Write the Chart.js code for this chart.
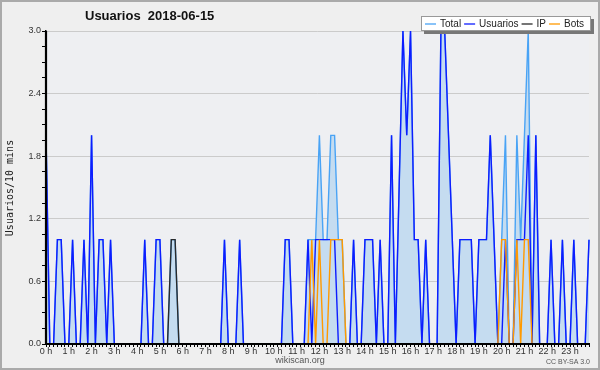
<!DOCTYPE html>
<html>
<head>
<meta charset="utf-8">
<script src="https://cdn.jsdelivr.net/npm/chart.js@4/dist/chart.umd.min.js"></script>
<style>
  html, body { margin: 0; padding: 0; background: #efefef; }
  canvas { display: block; }
</style>
</head>
<body>
<canvas id="myChart" width="600" height="370"></canvas>
<script>
// one value per 10 minutes, 6 per row = one hour per row
const total = [
  2, 0, 0, 1, 1, 0,
  0, 1, 0, 0, 1, 0,
  2, 0, 1, 1, 0, 1,
  0, 0, 0, 0, 0, 0,
  0, 0, 1, 0, 0, 1,
  1, 0, 0, 1, 1, 0,
  0, 0, 0, 0, 0, 0,
  0, 0, 0, 0, 0, 1,
  0, 0, 0, 1, 0, 0,
  0, 0, 0, 0, 0, 0,
  0, 0, 0, 1, 1, 0,
  0, 0, 0, 1, 1, 1,
  2, 1, 1, 2, 2, 1,
  1, 0, 0, 1, 0, 0,
  1, 1, 1, 0, 1, 0,
  0, 2, 0, 1.5, 3, 2,
  3, 1, 1, 0, 1, 0,
  0, 0, 3, 3, 2, 1,
  0, 1, 1, 1, 1, 0,
  1, 1, 1, 2, 1, 0,
  1, 2, 0, 0, 2, 1,
  2, 3, 0, 2, 0, 0,
  0, 1, 0, 0, 1, 0,
  0, 1, 0, 0, 0, 1
];

const usuarios = [
  2, 0, 0, 1, 1, 0,
  0, 1, 0, 0, 1, 0,
  2, 0, 1, 1, 0, 1,
  0, 0, 0, 0, 0, 0,
  0, 0, 1, 0, 0, 1,
  1, 0, 0, 0, 0, 0,
  0, 0, 0, 0, 0, 0,
  0, 0, 0, 0, 0, 1,
  0, 0, 0, 1, 0, 0,
  0, 0, 0, 0, 0, 0,
  0, 0, 0, 1, 1, 0,
  0, 0, 0, 1, 0, 1,
  1, 1, 1, 1, 1, 0,
  0, 0, 0, 1, 0, 0,
  1, 1, 1, 0, 1, 0,
  0, 2, 0, 1.5, 3, 2,
  3, 1, 1, 0, 1, 0,
  0, 0, 3, 3, 2, 1,
  0, 1, 1, 1, 1, 0,
  1, 1, 1, 2, 1, 0,
  0, 1, 0, 0, 1, 1,
  1, 2, 0, 2, 0, 0,
  0, 1, 0, 0, 1, 0,
  0, 1, 0, 0, 0, 1
];

const ip = [
  0, 0, 0, 0, 0, 0,
  0, 0, 0, 0, 0, 0,
  0, 0, 0, 0, 0, 0,
  0, 0, 0, 0, 0, 0,
  0, 0, 0, 0, 0, 0,
  0, 0, 0, 1, 1, 0,
  0, 0, 0, 0, 0, 0,
  0, 0, 0, 0, 0, 0,
  0, 0, 0, 0, 0, 0,
  0, 0, 0, 0, 0, 0,
  0, 0, 0, 0, 0, 0,
  0, 0, 0, 0, 0, 0,
  0, 0, 0, 0, 0, 0,
  0, 0, 0, 0, 0, 0,
  0, 0, 0, 0, 0, 0,
  0, 0, 0, 0, 0, 0,
  0, 0, 0, 0, 0, 0,
  0, 0, 0, 0, 0, 0,
  0, 0, 0, 0, 0, 0,
  0, 0, 0, 0, 0, 0,
  0, 0, 0, 0, 0, 0,
  0, 0, 0, 0, 0, 0,
  0, 0, 0, 0, 0, 0,
  0, 0, 0, 0, 0, 0
];

const bots = [
  0, 0, 0, 0, 0, 0,
  0, 0, 0, 0, 0, 0,
  0, 0, 0, 0, 0, 0,
  0, 0, 0, 0, 0, 0,
  0, 0, 0, 0, 0, 0,
  0, 0, 0, 0, 0, 0,
  0, 0, 0, 0, 0, 0,
  0, 0, 0, 0, 0, 0,
  0, 0, 0, 0, 0, 0,
  0, 0, 0, 0, 0, 0,
  0, 0, 0, 0, 0, 0,
  0, 0, 0, 0, 1, 0,
  1, 0, 0, 1, 1, 1,
  1, 0, 0, 0, 0, 0,
  0, 0, 0, 0, 0, 0,
  0, 0, 0, 0, 0, 0,
  0, 0, 0, 0, 0, 0,
  0, 0, 0, 0, 0, 0,
  0, 0, 0, 0, 0, 0,
  0, 0, 0, 0, 0, 0,
  1, 1, 0, 0, 1, 0,
  1, 1, 0, 0, 0, 0,
  0, 0, 0, 0, 0, 0,
  0, 0, 0, 0, 0, 0
];

const hourTicks = [
  '0 h', '1 h', '2 h', '3 h', '4 h', '5 h', '6 h', '7 h', '8 h', '9 h', '10 h', '11 h',
  '12 h', '13 h', '14 h', '15 h', '16 h', '17 h', '18 h', '19 h', '20 h', '21 h', '22 h', '23 h'
];
const yTicks = [0.0, 0.6, 1.2, 1.8, 2.4, 3.0];

const titleText = 'Usuarios  2018-06-15';
const yTitle = 'Usuarios/10 mins';

// x categories: one slot per 10 minutes
const slots = total.map((v, i) => i);

const isMajor = (v) => yTicks.some(t => Math.abs(t - v) < 1e-6);
const font = 'Liberation Sans';

// background, title, legend box and footer texts
const decor = {
  id: 'decor',
  beforeDraw(chart) {
    const { ctx, chartArea: a } = chart;
    ctx.save();
    ctx.fillStyle = '#efefef';
    ctx.fillRect(0, 0, 600, 370);
    ctx.fillStyle = '#eeeff2';
    ctx.fillRect(a.left, a.top, a.right - a.left, a.bottom - a.top);
    ctx.strokeStyle = '#aaaaaa';
    ctx.lineWidth = 2;
    ctx.strokeRect(1, 1, 598, 368);
    ctx.restore();
  },
  afterDatasetsDraw(chart) {
    // axes sit on top of the zero-valued lines
    const { ctx, chartArea: a } = chart;
    ctx.save();
    ctx.strokeStyle = '#000';
    ctx.lineWidth = 2.2;
    ctx.beginPath();
    ctx.moveTo(a.left, a.top);
    ctx.lineTo(a.left, a.bottom);
    ctx.lineTo(a.right + 1, a.bottom);
    ctx.stroke();
    ctx.restore();
  },
  afterDraw(chart) {
    const ctx = chart.ctx;
    ctx.save();

    // title
    ctx.fillStyle = '#111';
    ctx.font = 'bold 13px "' + font + '"';
    ctx.textBaseline = 'middle';
    ctx.textAlign = 'left';
    ctx.fillText(titleText, 85, 16);

    // y axis title
    ctx.save();
    ctx.translate(10, 188);
    ctx.rotate(-Math.PI / 2);
    ctx.font = '10px "DejaVu Sans Mono"';
    ctx.textAlign = 'center';
    ctx.fillStyle = '#222';
    ctx.fillText(yTitle, 0, 0);
    ctx.restore();

    // footer
    ctx.fillStyle = '#555';
    ctx.font = '9px "' + font + '"';
    ctx.textAlign = 'center';
    ctx.fillText('wikiscan.org', 300, 361);
    ctx.font = '7px "' + font + '"';
    ctx.textAlign = 'right';
    ctx.fillText('CC BY-SA 3.0', 590, 362);

    // legend
    const bx = 421, by = 16, bw = 170, bh = 15;
    ctx.fillStyle = '#777';
    ctx.fillRect(bx + 3, by + 3, bw, bh);
    ctx.fillStyle = '#ffffff';
    ctx.fillRect(bx, by, bw, bh);
    ctx.strokeStyle = '#999';
    ctx.lineWidth = 1;
    ctx.strokeRect(bx + 0.5, by + 0.5, bw - 1, bh - 1);

    ctx.font = '10px "' + font + '"';
    ctx.textAlign = 'left';
    let x = bx + 4;
    const ly = by + bh / 2 + 0.5;
    chart.data.datasets.forEach(ds => {
      ctx.strokeStyle = ds.borderColor;
      ctx.lineWidth = 1.3;
      ctx.beginPath();
      ctx.moveTo(x, ly);
      ctx.lineTo(x + 11, ly);
      ctx.stroke();
      x += 15;
      ctx.fillStyle = '#222';
      ctx.fillText(ds.label, x, ly);
      x += ctx.measureText(ds.label).width + 3;
    });
    ctx.restore();
  }
};

const elem = document.getElementById('myChart').getContext('2d');
const chart = new Chart(elem, {
  type: 'line',
  data: {
    labels: slots,
    datasets: [
      {
        label: 'Total',
        data: total,
        borderColor: '#49a3f5',
        backgroundColor: '#c5dcf0',
        fill: 'origin',
        order: 4
      },
      {
        label: 'Usuarios',
        data: usuarios,
        borderColor: '#0d1cff',
        fill: false,
        order: 3
      },
      {
        label: 'IP',
        data: ip,
        borderColor: '#2a2a2a',
        fill: false,
        order: 2
      },
      {
        label: 'Bots',
        data: bots,
        borderColor: '#ff9a00',
        fill: false,
        order: 1
      }
    ]
  },
  options: {
    responsive: false,
    animation: false,
    devicePixelRatio: 1,
    layout: { padding: { top: 31, right: 11, left: 0, bottom: 0 } },
    elements: {
      point: { radius: 0 },
      line: { borderWidth: 1.4, tension: 0 }
    },
    datasets: { line: { clip: 3 } },
    plugins: {
      legend: { display: false },
      tooltip: { enabled: false },
      title: { display: false }
    },
    scales: {
      x: {
        type: 'category',
        offset: false,
        afterFit: (scale) => { scale.height = 26; },
        grid: {
          drawOnChartArea: false,
          drawTicks: true,
          tickLength: 3,
          tickColor: '#000'
        },
        border: { color: '#000', width: 1.5 },
        ticks: {
          autoSkip: false,
          maxRotation: 0,
          minRotation: 0,
          padding: -1,
          color: '#333',
          font: { family: font, size: 9 },
          callback: (v, i) => (i % 6 === 0 ? hourTicks[i / 6] : '')
        }
      },
      y: {
        min: 0,
        max: 3,
        afterFit: (scale) => { scale.width = 46; },
        afterBuildTicks: (scale) => {
          const t = [];
          for (let k = 0; k <= 20; k++) t.push({ value: k * 0.15 });
          scale.ticks = t;
        },
        grid: {
          color: (c) => (c.tick && isMajor(c.tick.value) ? '#cbcbcb' : 'rgba(0,0,0,0)'),
          tickColor: '#000',
          tickLength: 4,
          lineWidth: 1
        },
        border: { color: '#000', width: 1.5 },
        ticks: {
          autoSkip: false,
          padding: 1,
          color: '#333',
          font: { family: font, size: 9 },
          callback: (v) => (isMajor(v) ? v.toFixed(1) : '')
        }
      }
    }
  },
  plugins: [decor]
});
</script>
</body>
</html>
